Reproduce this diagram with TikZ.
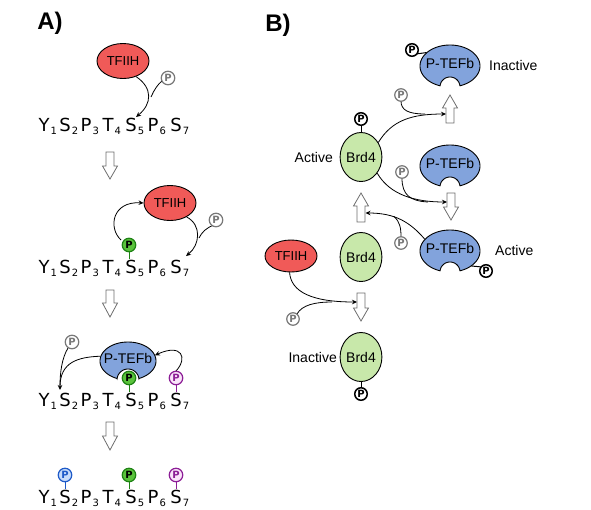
\documentclass[tikz,border=0pt]{standalone}
\usepackage{fontspec}
\setmainfont{Liberation Sans}
\newfontfamily\dejavu{DejaVu Sans}
\usetikzlibrary{shapes.geometric,arrows.meta}
\definecolor{tfred}{RGB}{240,90,88}
\definecolor{ptblue}{RGB}{130,163,220}
\definecolor{brdgreen}{RGB}{200,232,170}
\definecolor{pgr}{RGB}{120,120,120}
\definecolor{pgd}{RGB}{30,130,20}
\definecolor{pgf}{RGB}{90,195,60}
\definecolor{ppd}{RGB}{140,30,150}
\definecolor{ppf}{RGB}{250,228,250}
\definecolor{pbd}{RGB}{30,90,200}
\definecolor{pbf}{RGB}{200,220,250}
\definecolor{arrgray}{RGB}{110,110,110}
\tikzset{
  conn/.style={line width=0.8pt, -{Stealth[length=5pt,width=4.5pt]}},
  connp/.style={line width=0.8pt},
  pm/.style={circle, draw, line width=1.2pt, minimum size=13.5pt, inner sep=0pt, fill=white, font=\dejavu\bfseries\fontsize{10}{10}\selectfont},
  pgray/.style={pm, draw=pgr, text=pgr},
  pgrayB/.style={pm, draw=pgr, text=pgr, minimum size=12.5pt},
  pgreen/.style={pm, draw=pgd, fill=pgf, text=black},
  ppurple/.style={pm, draw=ppd, fill=ppf, text=ppd},
  pblue/.style={pm, draw=pbd, fill=pbf, text=pbd},
  pblack/.style={pm, draw=black, line width=1.5pt, minimum size=12.5pt, text=black},
  seq/.style={anchor=base, inner sep=0pt, font=\dejavu\fontsize{18}{18}\selectfont},
  seqsub/.style={anchor=base west, inner sep=0pt, xshift=0.8pt, font=\dejavu\fontsize{10}{10}\selectfont},
  tf/.style={ellipse, draw, line width=0.9pt, fill=tfred, inner sep=0pt, minimum width=52pt, minimum height=35pt, font=\fontsize{13}{13}\selectfont},
  brd/.style={ellipse, draw, line width=0.9pt, fill=brdgreen, inner sep=0pt, minimum width=40pt, minimum height=49pt, font=\fontsize{14}{14}\selectfont},
  ptshape/.style={draw, line width=0.9pt, fill=ptblue},
  pttext/.style={inner sep=0pt, font=\fontsize{14}{14}\selectfont},
  lbl/.style={inner sep=0pt, font=\fontsize{14}{14}\selectfont},
  panel/.style={inner sep=0pt, font=\bfseries\fontsize{24}{24}\selectfont},
  blockarr/.style={draw=arrgray, fill=white, line width=0.8pt},
  stem/.style={line width=1pt}
}
\newcommand\seqrow[2]{%
  \foreach \L/\n/\xx in {Y/1/44,S/2/65,P/3/86,T/4/108,S/5/131,P/6/153,S/7/176}{
    \node[seq] (#1\n) at (\xx,#2) {\L};
    \node[seqsub] (#1n\n) at ([yshift=-3.5pt]#1\n.base east) {\n};
  }}
\newcommand\ptefb[6]{%
  \pgfmathsetmacro\ptA{-acos(#6/#4)}%
  \pgfmathsetmacro\ptB{180+acos(#6/#4)}%
  \filldraw[ptshape] plot[domain=\ptA:\ptB, samples=90] ({#2+#4*cos(\x)},{#3-#5*sin(\x)}) -- plot[domain=173:7, samples=30] ({#2+#6*cos(\x)},{#3+#5-#6*sin(\x)}) -- cycle;
  \node[ellipse, inner sep=0pt, minimum width={2*#4pt}, minimum height={2*#5pt}] (#1) at (#2,#3) {};
  \node[pttext] (#1t) at (#2,#3-3) {P-TEFb};
}
\newcommand\barrow[4]{\draw[blockarr] (#1-4,#2) -- (#1+4,#2) -- (#1+4,#3) -- (#1+7.5,#3) -- (#1,#4) -- (#1-7.5,#3) -- (#1-4,#3) -- cycle;}
\begin{document}
\begin{tikzpicture}[x=1pt,y=-1pt]
\useasboundingbox (0,0) rectangle (591,509);
% ---------------- Panel A ----------------
\node[panel] (la) at (50,23) {A)};
\node[panel] (lb) at (278,25) {B)};
% row 1
\node[tf] (t1) at (123,61) {TFIIH};
\seqrow{a}{131}
\coordinate (tip1) at (136,117);
\draw[conn] (t1.-50) .. controls (153,88) and (152,104) .. (tip1);
\draw[connp] (162,81) .. controls (158,84) and (154,90) .. (151,97);
\node[pgray] (g1) at (168,78) {P};
\barrow{110}{152}{166}{179}
% row 2
\node[tf] (t2) at (170,203) {TFIIH};
\seqrow{b}{273}
\coordinate (tip2) at (186,256);
\draw[stem, draw=pgd] (129,252) -- (129,259);
\draw[conn] (121,240) .. controls (108,228) and (112,201) .. (t2.west);
\draw[conn] (t2.-40) .. controls (202,225) and (200,245) .. (tip2);
\draw[connp] (214,225) .. controls (206,228) and (202,232) .. (199,238);
\node[pgreen] (gp2) at (129,245) {P};
\node[pgray] (g2) at (216,220) {P};
\barrow{110}{290}{303}{317}
% row 3
\ptefb{pa}{128}{361}{28}{19}{11}
\seqrow{c}{406}
\coordinate (tip3) at (60,390);
\draw[stem, draw=pgd] (129,384) -- (129,392);
\draw[stem, draw=ppd] (176,384) -- (176,392);
\draw[conn] (pa.170) .. controls (78,357) and (60,362) .. (tip3);
\draw[connp] (68,348) .. controls (62,358) and (60,372) .. (60,386);
\draw[conn] (176,371) .. controls (188,358) and (182,343) .. (pa.12);
\node[pgreen] (gp3) at (129,378) {P};
\node[ppurple] (pp3) at (176,378) {P};
\node[pgray] (g3) at (72,342) {P};
\barrow{110}{422}{436}{450}
% row 4
\seqrow{d}{503}
\draw[stem, draw=pbd] (65,481) -- (65,489);
\draw[stem, draw=pgd] (129,481) -- (129,489);
\draw[stem, draw=ppd] (176,481) -- (176,489);
\node[pblue] (bp4) at (65,475) {P};
\node[pgreen] (gp4) at (129,475) {P};
\node[ppurple] (pp4) at (176,475) {P};
% ---------------- Panel B ----------------
\ptefb{pti}{450}{66}{30}{21}{10}
\ptefb{ptm}{450}{166}{30}{21}{10}
\ptefb{pta}{450}{251}{30}{21}{10}
\node[brd] (b1) at (361,157) {Brd4};
\node[brd] (b2) at (361,257) {Brd4};
\node[brd] (b3) at (361,357) {Brd4};
\node[tf, minimum height=32pt] (tb) at (291,256) {TFIIH};
\node[lbl, anchor=west] (l1) at (489,65) {Inactive};
\node[lbl, anchor=east] (l2) at (333,157) {Active};
\node[lbl, anchor=west] (l3) at (495,250) {Active};
\node[lbl, anchor=east] (l4) at (337,357) {Inactive};
\barrow{450}{123}{108}{95}
\barrow{451}{193}{207}{220}
\barrow{361}{222}{206}{193}
\barrow{361}{293}{308}{321}
\coordinate (u1) at (446,114);
\coordinate (d2) at (447,202);
\coordinate (u3) at (365.5,213);
\coordinate (d4) at (357,302);
% stems of black P
\draw[stem] (b1.north) -- (361,125);
\draw[stem] (pti.150) -- (416,54);
\draw[stem] (pta.-35) -- (482,267);
\draw[stem] (b3.south) -- (361,388);
% connectors
\draw[conn] (b1.40) .. controls (392,120) and (412,114) .. (u1);
\draw[connp] (401,101) .. controls (401,110) and (408,114) .. (425,114);
\draw[conn] (b1.-45) .. controls (390,195) and (415,202) .. (d2);
\draw[connp] (402,178) .. controls (402,195) and (410,201) .. (428,202);
\draw[conn] (pta.155) .. controls (410,222) and (395,213) .. (u3);
\draw[connp] (401,237) .. controls (401,228) and (400,222) .. (394,216.5);
\draw[conn] (tb.-95) .. controls (291,292) and (312,302) .. (d4);
\draw[connp] (297,314) .. controls (302,305) and (315,302) .. (332,302);
% P markers
\node[pblack] (bpa) at (361,119) {P};
\node[pblack] (bpi) at (412,50) {P};
\node[pblack] (bpc) at (486,271) {P};
\node[pblack] (bpd) at (361,394) {P};
\node[pgrayB] (g4) at (401,95) {P};
\node[pgrayB] (g5) at (402,172) {P};
\node[pgrayB] (g6) at (401,243) {P};
\node[pgrayB] (g7) at (293,319) {P};
\end{tikzpicture}
\end{document}
